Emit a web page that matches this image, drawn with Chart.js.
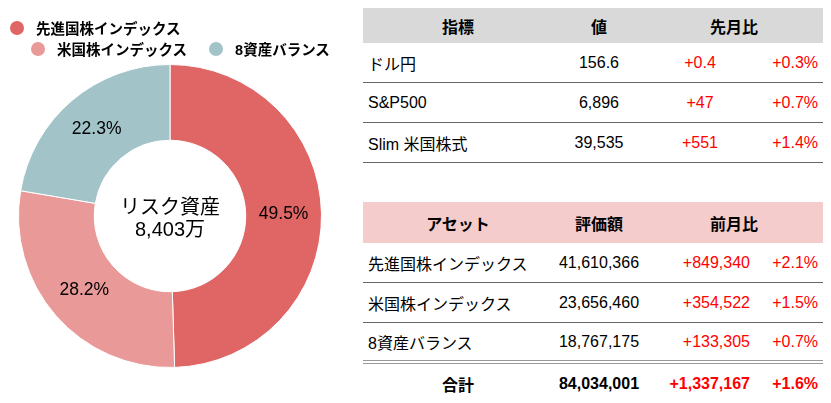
<!DOCTYPE html>
<html>
<head>
<meta charset="utf-8">
<script src="https://cdn.jsdelivr.net/npm/chart.js@4.4.1/dist/chart.umd.min.js"></script>
<style>
  body { margin: 0; background: #fff; font-family: "Liberation Sans", "Noto Sans CJK JP", sans-serif; }
  #wrap { position: relative; width: 831px; height: 403px; overflow: hidden; }
  #chartBox { position: absolute; left: 0; top: 0; width: 340px; height: 403px; }
  #legend { position: absolute; left: 0; top: 17px; font-size: 14.5px; font-weight: bold; color: #000; }
  .lrow { display: flex; align-items: center; height: 21px; }
  .litem { display: flex; align-items: center; margin-right: 22px; white-space: nowrap; }
  .ldot { width: 14px; height: 14px; border-radius: 50%; margin-right: 12px; }
  table { position: absolute; left: 363px; width: 460px; border-collapse: separate; border-spacing: 0; font-size: 16px; table-layout: fixed; }
  td, th { padding: 0 5px; white-space: nowrap; }
  th { font-weight: bold; text-align: center; }
  td { height: 39px; border-bottom: 1px solid #666; }
  .c1 { text-align: left; }
  .c2 { text-align: center; }
  .c3 { text-align: center; color: #f00; }
  .r3 { text-align: right; color: #f00; }
  .c4 { text-align: right; color: #f00; }
  #t1 { top: 8px; }
  #t1 th { height: 35px; background: #d9d9d9; }
  #t2 { top: 202px; }
  #t2 th { height: 41px; background: #f4cccc; }
  #t2 tr.last td { height: 37px; border-bottom: 4px double #999; }
  #t2 tr.total td { height: 40px; border-bottom: none; font-weight: bold; }
</style>
</head>
<body>
<div id="wrap">
  <div id="chartBox"><canvas id="myChart"></canvas></div>
  <div id="legend"></div>
  <table id="t1"></table>
  <table id="t2"></table>
</div>
<script>
// asset allocation
const assets = ["先進国株インデックス", "米国株インデックス", "8資産バランス"];
const amounts = [41610366, 23656460, 18767175];
const amountChanges = [849340, 354522, 133305];
const amountChangePct = [2.1, 1.5, 0.7];
const colors = ["#e06666", "#ea9999", "#a2c4c9"];

// market indicators
const indicators = ["ドル円", "S&P500", "Slim 米国株式"];
const indicatorValues = [156.6, 6896, 39535];
const indicatorChanges = [0.4, 47, 551];
const indicatorChangePct = [0.3, 0.7, 1.4];

const total = amounts.reduce((a, b) => a + b, 0);
const totalChange = amountChanges.reduce((a, b) => a + b, 0);
const totalPct = totalChange / (total - totalChange) * 100;

const fmt = (v) => v.toLocaleString("en-US");
const signed = (v) => (v >= 0 ? "+" : "") + fmt(v);
const signedPct = (v) => (v >= 0 ? "+" : "") + v.toFixed(1) + "%";

const fontFamily = '"Liberation Sans", "Noto Sans CJK JP", sans-serif';

// percent labels on slices + center text
const doughnutLabels = {
  id: "doughnutLabels",
  afterDatasetsDraw(chart) {
    const ctx = chart.ctx;
    const meta = chart.getDatasetMeta(0);
    const data = chart.data.datasets[0].data;
    const sum = data.reduce((a, b) => a + b, 0);
    ctx.save();
    ctx.fillStyle = "#000";
    ctx.textAlign = "center";
    ctx.textBaseline = "middle";
    ctx.font = "17.5px " + fontFamily;
    meta.data.forEach((arc, i) => {
      const p = arc.getCenterPoint();
      ctx.fillText((data[i] / sum * 100).toFixed(1) + "%", p.x, p.y);
    });
    const cx = meta.data[0].x;
    const cy = meta.data[0].y;
    ctx.font = "20px " + fontFamily;
    ctx.fillText("リスク資産", cx, cy - 8);
    ctx.fillText(fmt(Math.round(sum / 10000)) + "万", cx, cy + 14);
    ctx.restore();
  },
};

let ctx = document.getElementById("myChart").getContext("2d");
let myChart = new Chart(ctx, {
  type: "doughnut",
  data: {
    labels: assets,
    datasets: [
      {
        data: amounts,
        backgroundColor: colors,
        borderColor: "#ffffff",
        borderWidth: 1,
      },
    ],
  },
  options: {
    responsive: true,
    maintainAspectRatio: false,
    animation: false,
    cutout: "50%",
    layout: { padding: { top: 64, bottom: 35, left: 0, right: 0 } },
    plugins: {
      legend: { display: false },
      tooltip: { enabled: false },
    },
  },
  plugins: [doughnutLabels],
});

// html legend from the chart's own legend items
const items = Chart.overrides.doughnut.plugins.legend.labels.generateLabels(myChart);
const legendRows = [[0], [1, 2]];
const legendIndent = [10, 31];
const legendEl = document.getElementById("legend");
legendRows.forEach((row, r) => {
  const rowEl = document.createElement("div");
  rowEl.className = "lrow";
  rowEl.style.paddingLeft = legendIndent[r] + "px";
  row.forEach((i) => {
    const it = document.createElement("div");
    it.className = "litem";
    const dot = document.createElement("span");
    dot.className = "ldot";
    dot.style.background = items[i].fillStyle;
    it.appendChild(dot);
    it.appendChild(document.createTextNode(items[i].text));
    rowEl.appendChild(it);
  });
  legendEl.appendChild(rowEl);
});

// tables
const colgroup = '<colgroup><col style="width:190px"><col style="width:92px"><col style="width:110px"><col style="width:68px"></colgroup>';

let t1 = colgroup + '<tr><th>指標</th><th>値</th><th colspan="2">先月比</th></tr>';
indicators.forEach((name, i) => {
  t1 += "<tr><td class='c1'>" + name + "</td><td class='c2'>" + fmt(indicatorValues[i]) +
    "</td><td class='c3'>" + signed(indicatorChanges[i]) + "</td><td class='c4'>" +
    signedPct(indicatorChangePct[i]) + "</td></tr>";
});
document.getElementById("t1").innerHTML = t1;

let t2 = colgroup + '<tr><th>アセット</th><th>評価額</th><th colspan="2">前月比</th></tr>';
assets.forEach((name, i) => {
  const cls = i === assets.length - 1 ? " class='last'" : "";
  t2 += "<tr" + cls + "><td class='c1'>" + name + "</td><td class='c2'>" + fmt(amounts[i]) +
    "</td><td class='r3'>" + signed(amountChanges[i]) + "</td><td class='c4'>" +
    signedPct(amountChangePct[i]) + "</td></tr>";
});
t2 += "<tr class='total'><td class='c2'>合計</td><td class='c2'>" + fmt(total) +
  "</td><td class='r3'>" + signed(totalChange) + "</td><td class='c4'>" + signedPct(totalPct) + "</td></tr>";
document.getElementById("t2").innerHTML = t2;
</script>
</body>
</html>
